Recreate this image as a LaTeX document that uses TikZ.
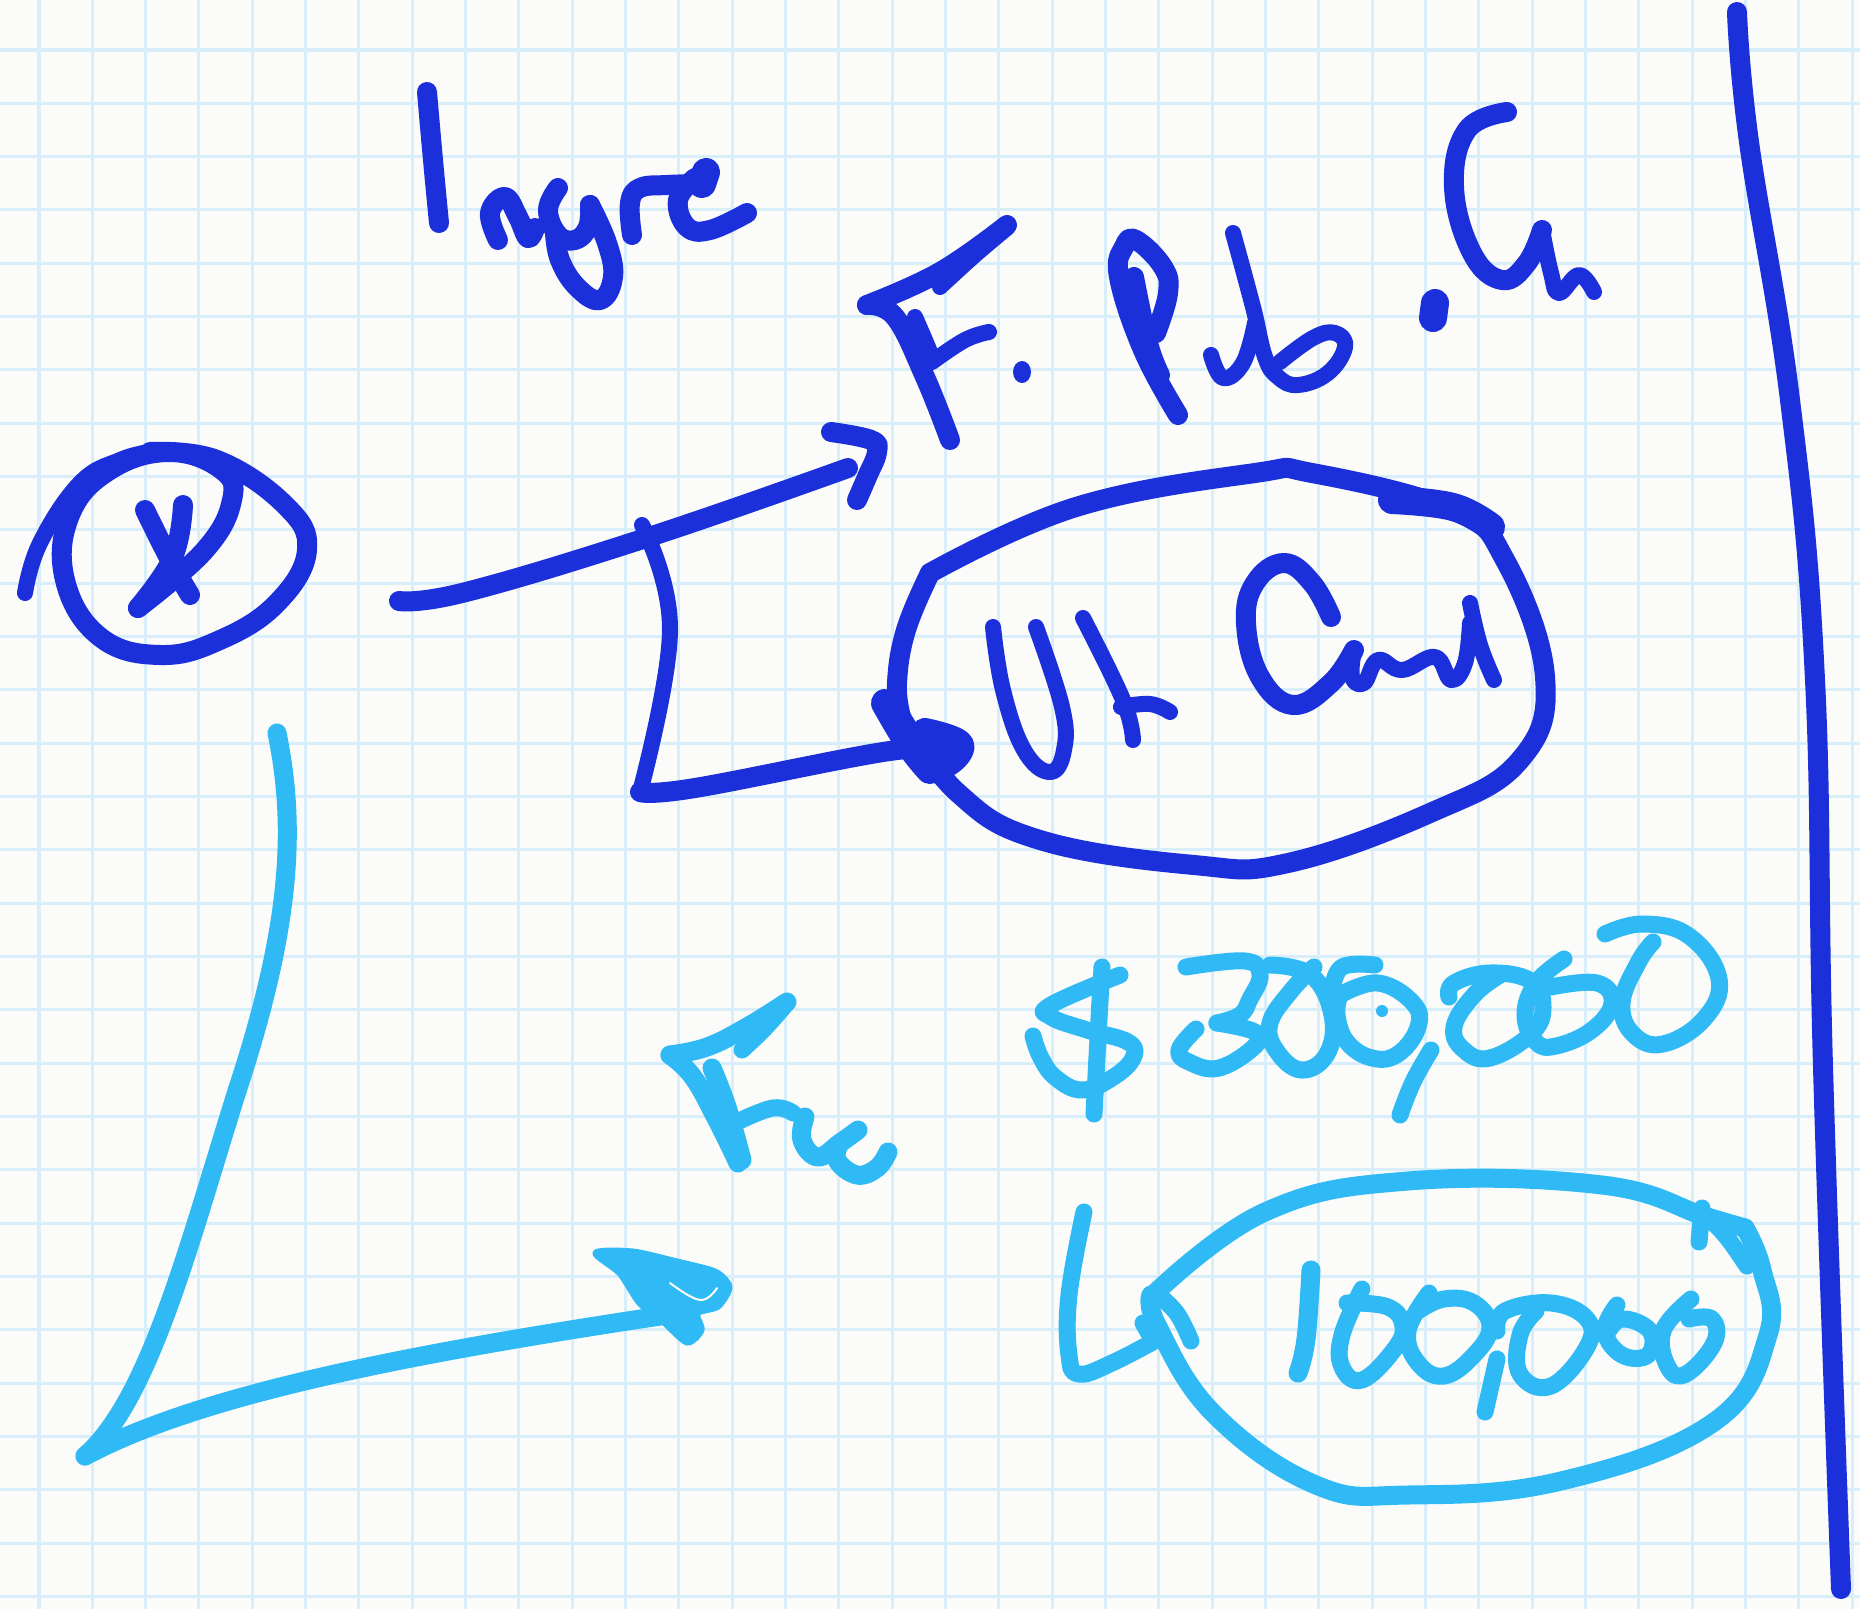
\documentclass[tikz,border=0pt]{standalone}
\definecolor{paper}{HTML}{FBFBFA}
\definecolor{gridc}{HTML}{D8EFFB}
\definecolor{inkd}{HTML}{1B30DB}
\definecolor{inkc}{HTML}{2FBAF5}
\tikzset{
  gridline/.style={draw=gridc,line width=0.03cm},
  stroke/.style={line cap=round,line join=round},
  dk/.style={stroke,draw=inkd,line width=0.2cm},
  dt/.style={stroke,draw=inkd,line width=0.16cm},
  dh/.style={stroke,draw=inkd,line width=0.28cm},
  ck/.style={stroke,draw=inkc,line width=0.19cm},
  ct/.style={stroke,draw=inkc,line width=0.17cm},
  blob/.style={stroke,fill=inkc,draw=inkc,line width=0.07cm},
  gleam/.style={stroke,draw=paper,line width=0.02cm},
}
\newcommand\stk[2]{\draw[#1] plot[smooth,tension=.7] coordinates {#2};}
\begin{document}
\begin{tikzpicture}[x=0.01cm,y=-0.01cm]
\useasboundingbox (0,0) rectangle (1860,1609);
\fill[paper] (0,0) rectangle (1860,1609);
\foreach \k in {0,...,34} {\pgfmathsetmacro\p{39+53.33*\k}\draw[gridline] (\p,0) -- (\p,1609);}
\foreach \k in {0,...,29} {\pgfmathsetmacro\p{50+53.33*\k}\draw[gridline] (0,\p) -- (1860,\p);}

% right divider
\stk{dk}{(1737,12)(1749,142)(1790,400)(1815,680)(1823,1067)(1841,1589)}

% I n g r e
\stk{dk}{(427,92)(433,160)(439,223)}
\stk{dk}{(498,240)(490,213)(505,197)(518,217)(528,238)(535,228)}
\stk{dk}{(558,188)(548,210)(558,235)(575,240)(588,227)(590,205)}
\stk{dk}{(590,205)(607,243)(613,277)(600,300)(577,287)(560,260)(555,233)}
\stk{dk}{(632,235)(630,203)(640,188)(667,185)(704,184)}
\stk{dh}{(706,172)(702,184)}
\stk{dk}{(695,178)(678,200)(687,227)(710,230)(747,213)}

% F . P u b . C n
\stk{dk}{(1007,225)(940,272)(867,305)}
\stk{dt}{(940,287)(975,255)(1007,228)}
\stk{dk}{(867,305)(895,317)(925,377)(950,440)}
\stk{dt}{(915,317)(925,340)(932,357)}
\stk{dt}{(932,362)(965,340)(989,332)}
\fill[inkd] (1022,372) ellipse [x radius=9,y radius=11];
\stk{dh}{(1435,303)(1433,318)}
\stk{dk}{(1178,415)(1143,350)(1119,277)(1124,247)(1136,240)(1163,267)(1168,293)(1156,333)}
\stk{dk}{(1134,277)(1148,343)(1160,375)}
\stk{dt}{(1211,355)(1223,378)(1243,363)(1255,323)}
\stk{dt}{(1233,233)(1253,307)(1265,357)(1278,377)(1298,385)(1328,373)(1345,347)(1335,333)(1313,338)(1280,362)}
\stk{dk}{(1507,112)(1467,130)(1454,187)(1472,253)(1502,280)(1527,263)(1542,230)}
\stk{dt}{(1542,230)(1551,273)(1559,293)(1579,275)(1594,292)}

% circle with X
\stk{dt}{(25,593)(40,543)(80,483)(120,460)(150,452)}
\stk{dk}{(150,452)(217,460)(285,505)(307,550)(277,603)(220,640)(160,655)(100,637)(65,580)(70,515)(110,470)(170,452)(222,470)(232,500)(205,550)(138,608)}
\stk{dk}{(145,510)(170,560)(190,595)}
\stk{dk}{(183,505)(173,557)(138,608)}

% arrow to F. and branch
\stk{dk}{(399,601)(466,592)(649,537)(848,468)}
\stk{dk}{(831,432)(871,440)(877,452)(867,477)(857,500)}
\stk{dt}{(642,525)(670,630)(640,792)}
\stk{dk}{(640,792)(695,788)(883,752)(936,750)}

% dark ellipse
\stk{dk}{(901,717)(897,683)(906,630)(930,573)}
\stk{dk}{(930,573)(1076,507)(1255,473)(1312,473)(1453,510)(1505,560)(1545,677)(1520,760)(1430,813)(1288,863)(1194,865)(1040,840)(958,793)(901,717)}
\stk{dh}{(1392,500)(1453,507)(1491,527)}
\stk{dh}{(885,703)(910,745)(930,770)}
\stk{dh}{(925,732)(960,745)(941,765)(925,745)}

% U L  C u n d
\stk{dt}{(993,627)(1003,690)(1024,750)(1050,772)(1064,750)(1062,707)(1036,627)}
\stk{dt}{(1083,618)(1123,700)(1133,740)}
\stk{dt}{(1121,707)(1150,704)(1170,712)}
\stk{dk}{(1331,617)(1312,583)(1284,563)(1255,583)(1246,623)(1260,677)(1293,705)(1331,683)(1354,650)}
\stk{dt}{(1354,650)(1352,677)(1364,683)(1378,660)(1402,670)(1435,657)(1451,680)(1465,663)(1470,623)}
\stk{dt}{(1470,603)(1480,645)(1494,680)}

% Fu
\stk{ck}{(787,1002)(747,1027)(707,1047)(670,1055)}
\stk{ct}{(742,1050)(765,1028)(787,1003)}
\stk{ck}{(670,1055)(693,1077)(717,1120)(738,1163)}
\stk{ck}{(712,1068)(727,1107)(742,1160)}
\stk{ct}{(737,1122)(773,1108)(793,1113)}
\stk{ck}{(805,1117)(802,1140)(818,1157)(840,1143)(858,1130)}
\stk{ck}{(840,1143)(837,1160)(857,1175)(877,1168)(888,1152)}

% cyan long arrow
\draw[ck] (277,733) .. controls (297,830) and (290,930) .. (237,1091) .. controls (190,1240) and (150,1400) .. (85,1456);
\draw[ck] (85,1456) .. controls (200,1395) and (400,1355) .. (667,1315);
\draw[blob] plot[smooth cycle,tension=.45] coordinates {(596,1253)(633,1252)(677,1262)(715,1272)(729,1287)(718,1306)(697,1313)(701,1330)(687,1342)(663,1321)(640,1303)(620,1273)};
\stk{gleam}{(670,1283)(700,1300)(717,1288)}

% $ 300,000
\stk{ct}{(1120,975)(1051,1005)(1051,1017)(1087,1030)(1128,1042)(1133,1058)(1112,1078)(1082,1090)(1056,1078)(1041,1058)(1033,1036)}
\stk{ct}{(1102,967)(1099,1019)(1094,1114)}
\stk{ct}{(1186,967)(1245,961)(1260,975)(1250,999)(1240,1015)(1217,1023)}
\stk{ct}{(1217,1023)(1255,1032)(1255,1046)(1219,1068)(1189,1062)(1179,1050)(1196,1029)}
\stk{ct}{(1270,965)(1311,975)(1332,1015)(1327,1054)(1301,1070)(1276,1050)(1270,1023)(1291,991)(1314,967)}
\stk{ct}{(1375,965)(1342,967)(1332,991)}
\stk{ct}{(1340,995)(1378,983)(1413,1003)(1418,1027)(1398,1054)(1372,1058)(1347,1042)(1337,1015)(1340,995)}
\fill[inkc] (1382,1011) circle [radius=6];
\stk{ct}{(1431,1050)(1413,1082)(1400,1115)}
\stk{ct}{(1449,997)(1454,983)(1490,973)(1531,981)(1543,1007)(1531,1034)(1490,1058)(1464,1050)(1454,1027)(1474,995)(1500,975)}
\stk{ct}{(1564,959)(1536,983)(1525,1015)(1536,1042)(1556,1046)(1592,1030)(1612,1003)(1597,983)(1551,987)}
\stk{ct}{(1605,934)(1643,924)(1689,936)(1719,979)(1704,1019)(1663,1044)(1633,1034)(1622,1003)(1638,963)(1653,942)}

% cyan L and ellipse
\stk{ct}{(1084,1212)(1069,1295)(1069,1355)(1079,1374)(1112,1363)(1158,1339)}
\stk{ck}{(1153,1295)(1265,1212)(1408,1181)(1602,1185)(1704,1216)(1745,1228)}
\stk{ck}{(1745,1228)(1762,1270)(1768,1335)(1714,1422)(1561,1481)(1408,1495)(1316,1485)(1214,1414)(1158,1327)(1151,1295)}
\stk{ct}{(1163,1299)(1178,1315)(1191,1341)}
\stk{ct}{(1143,1323)(1151,1337)}
\stk{ct}{(1702,1208)(1699,1242)}
\stk{ct}{(1702,1212)(1725,1235)(1747,1266)}

% 100,000
\stk{ck}{(1311,1270)(1306,1339)(1298,1373)}
\stk{ct}{(1347,1303)(1388,1307)(1403,1327)(1393,1351)(1362,1380)(1342,1367)(1342,1335)(1362,1289)}
\stk{ct}{(1429,1293)(1408,1331)(1418,1363)(1444,1376)(1474,1355)(1490,1327)(1474,1303)(1444,1299)(1418,1311)}
\stk{ct}{(1497,1359)(1485,1412)}
\stk{ct}{(1497,1331)(1505,1311)(1551,1303)(1587,1319)(1587,1347)(1551,1386)(1520,1374)(1520,1335)(1536,1311)}
\stk{ct}{(1617,1305)(1605,1331)(1622,1355)(1648,1355)(1650,1331)(1622,1319)(1606,1335)}
\stk{ct}{(1691,1299)(1663,1331)(1668,1367)(1686,1374)(1714,1343)(1712,1319)(1689,1319)}
\end{tikzpicture}
\end{document}
